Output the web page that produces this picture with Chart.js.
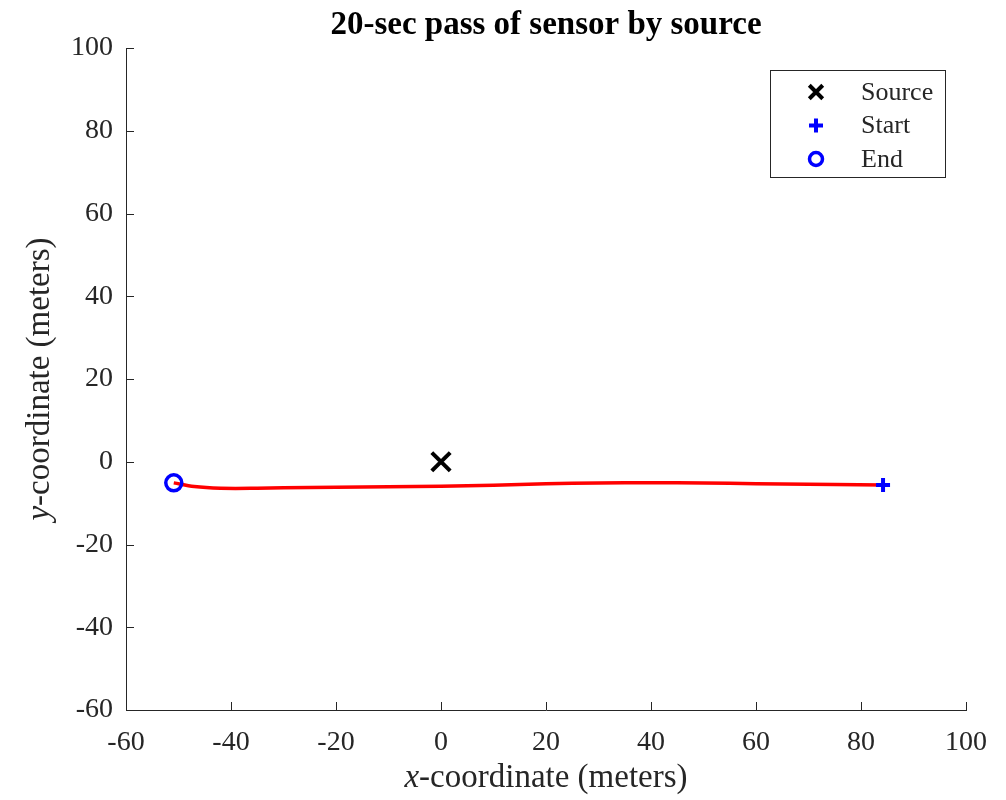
<!DOCTYPE html>
<html>
<head>
<meta charset="utf-8">
<script src="https://cdn.jsdelivr.net/npm/chart.js@4/dist/chart.umd.min.js"></script>
<style>
  html, body { margin: 0; padding: 0; background: #fff; }
  #wrap { width: 1006px; height: 800px; }
</style>
</head>
<body>
<div id="wrap"><canvas id="passChart" width="1006" height="800"></canvas></div>
<script>
// sensor path (start at right, end at left)
const pathX = [84.2, 75, 65, 55, 45, 35, 25, 15, 5, -5, -15, -25, -35, -42, -47, -50.9];
const pathY = [-5.6, -5.5, -5.4, -5.2, -5.1, -5.1, -5.2, -5.5, -5.8, -6.0, -6.1, -6.2, -6.4, -6.4, -6.0, -5.1];

const sourceX = [0];
const sourceY = [0];
const startX = [84.2];
const startY = [-5.6];
const endX = [-50.9];
const endY = [-5.1];

const xTicks = [-60, -40, -20, 0, 20, 40, 60, 80, 100];
const yTicks = [-60, -40, -20, 0, 20, 40, 60, 80, 100];
const legendLabels = ['Source', 'Start', 'End'];
const chartTitle = '20-sec pass of sensor by source';

const axisColor = '#262626';
const serif = '"Liberation Serif", "Times New Roman", serif';

function toPoints(xs, ys) {
    return xs.map(function (x, i) { return { x: x, y: ys[i] }; });
}

// inward tick marks on the left and bottom axes
const innerTicks = {
    id: 'innerTicks',
    afterDatasetsDraw: function (chart) {
        const ctx = chart.ctx;
        const xs = chart.scales.x;
        const ys = chart.scales.y;
        const area = chart.chartArea;
        ctx.save();
        ctx.strokeStyle = axisColor;
        ctx.lineWidth = 1;
        ctx.beginPath();
        xTicks.forEach(function (v) {
            const px = Math.round(xs.getPixelForValue(v)) + 0.5;
            ctx.moveTo(px, area.bottom);
            ctx.lineTo(px, area.bottom - 8);
        });
        yTicks.forEach(function (v) {
            const py = Math.round(ys.getPixelForValue(v)) + 0.5;
            ctx.moveTo(area.left, py);
            ctx.lineTo(area.left + 8, py);
        });
        ctx.stroke();
        ctx.restore();
    }
};

// title and axis titles (variable name in italics), centred on the plot area
const titles = {
    id: 'titles',
    afterDraw: function (chart) {
        const ctx = chart.ctx;
        const area = chart.chartArea;
        const midX = (area.left + area.right) / 2;
        const size = 33;
        const italic = 'italic ' + size + 'px ' + serif;
        const normal = size + 'px ' + serif;
        function drawTitle(v, rest) {
            ctx.font = italic;
            const w1 = ctx.measureText(v).width;
            ctx.font = normal;
            const w2 = ctx.measureText(rest).width;
            const start = -(w1 + w2) / 2;
            ctx.font = italic;
            ctx.fillText(v, start, 0);
            ctx.font = normal;
            ctx.fillText(rest, start + w1, 0);
        }
        ctx.save();
        ctx.textBaseline = 'middle';
        ctx.textAlign = 'center';
        ctx.fillStyle = '#000';
        ctx.font = 'bold 33px ' + serif;
        ctx.fillText(chartTitle, midX, 25);

        ctx.fillStyle = axisColor;
        ctx.textAlign = 'left';
        ctx.save();
        ctx.translate(midX, 778);
        drawTitle('x', '-coordinate (meters)');
        ctx.restore();
        ctx.save();
        ctx.translate(40, (area.top + area.bottom) / 2);
        ctx.rotate(-Math.PI / 2);
        drawTitle('y', '-coordinate (meters)');
        ctx.restore();
        ctx.restore();
    }
};

// boxed legend in the upper right corner
const legendRadius = [9.5, 7, 6.5];
const boxLegend = {
    id: 'boxLegend',
    afterDraw: function (chart) {
        const ctx = chart.ctx;
        const area = chart.chartArea;
        const boxW = 175, boxH = 107;
        const bx = area.right - 196, by = area.top + 22;
        ctx.save();
        ctx.fillStyle = '#fff';
        ctx.fillRect(bx, by, boxW, boxH);
        ctx.strokeStyle = axisColor;
        ctx.lineWidth = 1;
        ctx.strokeRect(bx + 0.5, by + 0.5, boxW, boxH);
        ctx.font = '26px ' + serif;
        ctx.textBaseline = 'middle';
        ctx.textAlign = 'left';
        legendLabels.forEach(function (label, i) {
            const ds = chart.data.datasets[i];
            const cy = by + 22 + i * 33.5;
            const cx = bx + 46;
            ctx.strokeStyle = ds.borderColor;
            ctx.fillStyle = ds.backgroundColor;
            ctx.lineWidth = ds.borderWidth;
            if (Chart.helpers && Chart.helpers.drawPoint) {
                Chart.helpers.drawPoint(ctx, {
                    pointStyle: ds.pointStyle,
                    radius: legendRadius[i],
                    rotation: 0,
                    borderWidth: ds.borderWidth
                }, cx, cy);
            }
            ctx.fillStyle = axisColor;
            ctx.fillText(label, bx + 91, cy + 1);
        });
        ctx.restore();
    }
};

const ctx = document.getElementById('passChart').getContext('2d');
const passChart = new Chart(ctx, {
    type: 'scatter',
    data: {
        datasets: [{
            label: 'Source',
            data: toPoints(sourceX, sourceY),
            pointStyle: 'crossRot',
            pointRadius: 13,
            borderWidth: 4,
            borderColor: '#000000',
            backgroundColor: '#000000'
        }, {
            label: 'Start',
            data: toPoints(startX, startY),
            pointStyle: 'cross',
            pointRadius: 7,
            borderWidth: 4,
            borderColor: '#0000ff',
            backgroundColor: '#0000ff'
        }, {
            label: 'End',
            data: toPoints(endX, endY),
            pointStyle: 'circle',
            pointRadius: 8,
            borderWidth: 3.5,
            borderColor: '#0000ff',
            backgroundColor: 'rgba(0,0,0,0)'
        }, {
            label: 'Path',
            data: toPoints(pathX, pathY),
            showLine: true,
            pointRadius: 0,
            borderColor: '#ff0000',
            borderWidth: 3.5,
            tension: 0.35
        }]
    },
    options: {
        responsive: false,
        animation: false,
        layout: { padding: { top: 48, left: 0, right: 40, bottom: 0 } },
        plugins: {
            legend: { display: false },
            tooltip: { enabled: false },
            title: { display: false }
        },
        scales: {
            x: {
                type: 'linear',
                min: -60,
                max: 100,
                afterFit: function (scale) { scale.height = 90; },
                afterBuildTicks: function (scale) {
                    scale.ticks = xTicks.map(function (v) { return { value: v }; });
                },
                grid: { display: false, drawTicks: false },
                border: { display: true, color: axisColor, width: 1 },
                ticks: {
                    color: axisColor,
                    padding: 16,
                    maxRotation: 0,
                    autoSkip: false,
                    font: { family: serif, size: 28 }
                }
            },
            y: {
                type: 'linear',
                min: -60,
                max: 100,
                afterFit: function (scale) { scale.width = 126; },
                afterBuildTicks: function (scale) {
                    scale.ticks = yTicks.map(function (v) { return { value: v }; });
                },
                grid: { display: false, drawTicks: false },
                border: { display: true, color: axisColor, width: 1 },
                ticks: {
                    color: axisColor,
                    padding: 13,
                    autoSkip: false,
                    font: { family: serif, size: 28 }
                }
            }
        }
    },
    plugins: [innerTicks, titles, boxLegend]
});
</script>
</body>
</html>
